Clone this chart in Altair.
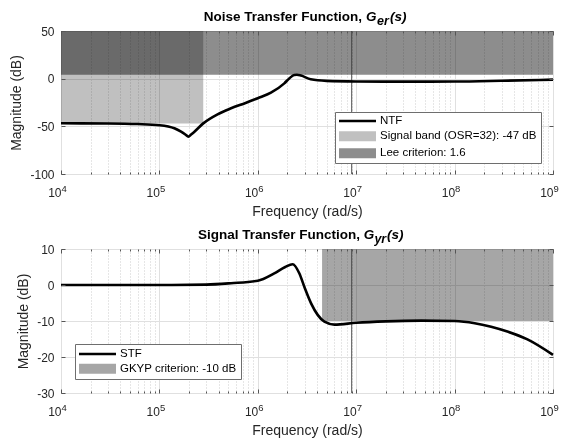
import altair as alt
import pandas as pd

# ---------------- data ----------------
ntf_freq = [1e4, 3e4, 6e4, 1e5, 1.42e5, 1.66e5, 1.85e5, 1.97e5, 2.1e5, 2.27e5, 2.79e5,
            3.9e5, 5.35e5, 7.5e5, 1e6, 1.36e6, 1.86e6, 2.1e6, 2.35e6, 2.5e6, 2.75e6,
            3.45e6, 5e6, 1e7, 3e7, 1e8, 3e8, 1e9]
ntf_db = [-46.8, -47.0, -47.6, -48.8, -52.0, -55.6, -58.8, -60.8, -58.5, -55.6, -46.9,
          -37.4, -31.1, -25.5, -20.5, -14.7, -4.9, 0.5, 3.9, 4.1, 3.2,
          -0.7, -2.3, -2.9, -3.1, -3.0, -2.2, -1.0]

stf_freq = [1e4, 1e5, 3e5, 5.35e5, 1e6, 1.47e6, 1.9e6, 2.26e6, 2.64e6, 2.97e6, 3.48e6,
            4.06e6, 4.75e6, 6e6, 1e7, 2e7, 4.6e7, 1e8, 1.6e8, 2.35e8, 3.5e8, 5.5e8, 1e9]
stf_db = [0.0, 0.0, 0.1, 0.5, 1.2, 3.25, 5.0, 5.75, 3.25, -0.5, -5.1,
          -8.3, -10.2, -11.0, -10.5, -10.1, -9.9, -10.0, -10.6, -11.6, -13.0, -15.1, -19.4]

top_line_label = ["NTF"]
top_band_labels = ["Signal band (OSR=32): -47 dB", "Lee criterion: 1.6"]
top_band_colors = ["#c0c0c0", "#8d8d8d"]
bot_line_label = ["STF"]
bot_band_labels = ["GKYP criterion: -10 dB"]
bot_band_colors = ["#a6a6a6"]
line_color = ["#000000"]

signal_band_freq = [1e4, 2.79e5]
signal_band_db = [-47, 50]
lee_freq = [1e4, 1e9]
lee_db = [4.08, 50]
gkyp_freq = [4.5e6, 1e9]
gkyp_db = [-10, 10]
marker_freq = [9.0e6]

x_domain = [1e4, 1e9]
top_y_domain = [-100, 50]
bot_y_domain = [-30, 10]
top_y_ticks = [-100, -50, 0, 50]
bot_y_ticks = [-30, -20, -10, 0, 10]
decades = [1e4, 1e5, 1e6, 1e7, 1e8, 1e9]
minor_steps = [1, 2, 3, 4, 5, 6, 7, 8, 9]
x_ticks = [d * m for d in decades[:-1] for m in minor_steps] + [decades[-1]]

top_title = ["Noise Transfer Function,", "G", "er", "(s)"]
bot_title = ["Signal Transfer Function,", "G", "yr", "(s)"]

# ---------------- styling ----------------
W = 492
H_TOP = 143
H_BOT = 144
FONT = "Liberation Sans"
AX_COLOR = "#262626"
MAJOR = "abs(log(datum.value)/LN10 - round(log(datum.value)/LN10)) < 0.001"
RECT_PATH = "M-3.7,-1L3.7,-1L3.7,1L-3.7,1Z"
LINE_PATH = "M-3.7,0L3.7,0"
LABEL_PAD = 13.5


def main_x_axis():
    return alt.Axis(values=x_ticks, labelExpr=f"({MAJOR}) ? '10' : ''",
                    title="Frequency (rad/s)",
                    grid=True,
                    gridColor={"condition": {"test": MAJOR, "value": "#e0e0e0"}, "value": "#cdcdcd"},
                    gridDash={"condition": {"test": MAJOR, "value": []}, "value": [1, 2]},
                    gridWidth=1, ticks=False, tickSize=0, domain=False,
                    labelPadding=LABEL_PAD, labelAlign="right",
                    labelFont=FONT, labelFontSize=12, labelColor=AX_COLOR,
                    labelFlush=False, labelOverlap=False, labelBound=False,
                    titleFont=FONT, titleFontSize=14, titleFontWeight="normal",
                    titleColor=AX_COLOR, titlePadding=6)


def exponent_x_axis():
    return alt.Axis(orient="bottom", values=decades,
                    labelExpr="'' + round(log(datum.value)/LN10)",
                    title=None, grid=False, ticks=False, tickSize=0, domain=False,
                    labelPadding=LABEL_PAD - 3.7, labelAlign="left",
                    labelFont=FONT, labelFontSize=9.5, labelColor=AX_COLOR,
                    labelFlush=False, labelOverlap=False, labelBound=False)


def main_y_axis(ticks):
    return alt.Axis(values=ticks, labelExpr="'' + datum.value", title="Magnitude (dB)",
                    grid=True, gridColor="#e0e0e0", gridWidth=1,
                    ticks=False, tickSize=0, domain=False,
                    labelPadding=7, labelFont=FONT, labelFontSize=12, labelColor=AX_COLOR,
                    labelFlush=False, labelOverlap=False,
                    titleFont=FONT, titleFontSize=14, titleFontWeight="normal",
                    titleColor=AX_COLOR, titlePadding=6)


def tick_x_axis(orient, offset):
    return alt.Axis(orient=orient, offset=offset, values=x_ticks, labels=False, title=None,
                    grid=False, domain=False, ticks=True,
                    tickSize={"condition": {"test": MAJOR, "value": 4}, "value": 2},
                    tickColor="#555555", tickWidth=1, zindex=1)


def tick_y_axis(orient, offset, ticks):
    return alt.Axis(orient=orient, offset=offset, values=ticks, labels=False, title=None,
                    grid=False, domain=False, ticks=True, tickSize=4,
                    tickColor="#555555", tickWidth=1, zindex=1)


def line_legend(lx, ly):
    return alt.Legend(title=None, orient="none", legendX=lx, legendY=ly,
                      symbolType=LINE_PATH, symbolSize=100, symbolStrokeWidth=2.6,
                      symbolOffset=12, labelOffset=16, padding=0,
                      labelFont=FONT, labelFontSize=11.5, labelColor="black",
                      labelLimit=400, zindex=2)


def band_legend(lx, ly, tpad):
    return alt.Legend(title=" ", titleFontSize=11.5, titlePadding=tpad,
                      orient="none", legendX=lx, legendY=ly,
                      symbolType=RECT_PATH, symbolSize=100, symbolStrokeWidth=0,
                      symbolOffset=12.75, labelOffset=16.75, rowPadding=4, padding=4,
                      labelFont=FONT, labelFontSize=11.5, labelColor="black",
                      labelLimit=400, fillColor="white", strokeColor="#6e6e6e", zindex=1)


def title_layers(parts, xs, y0):
    df = pd.DataFrame({"k": [0]})
    base = alt.Chart(df)
    main = base.mark_text(text=parts[0], align="right", baseline="alphabetic", font=FONT,
                          fontSize=13.5, fontWeight="bold", color="black").encode(
        x=alt.value(xs[0]), y=alt.value(y0))
    g = base.mark_text(text=parts[1], align="left", baseline="alphabetic", font=FONT,
                       fontSize=13.5, fontWeight="bold", fontStyle="italic", color="black").encode(
        x=alt.value(xs[1]), y=alt.value(y0))
    sub = base.mark_text(text=parts[2], align="left", baseline="alphabetic", font=FONT,
                         fontSize=12.5, fontWeight="bold", fontStyle="italic", color="black").encode(
        x=alt.value(xs[2]), y=alt.value(y0 + 4.3))
    par = base.mark_text(text=parts[3], align="left", baseline="alphabetic", font=FONT,
                         fontSize=13.5, fontWeight="bold", fontStyle="italic", color="black").encode(
        x=alt.value(xs[3]), y=alt.value(y0))
    return [main, g, sub, par]


def build_panel(H, y_domain, y_ticks, curve_freq, curve_db, bands, line_label, band_labels,
                band_colors, line_leg_pos, band_leg_pos, tpad, title_parts, title_xs):
    xs = alt.Scale(type="log", domain=x_domain, nice=False)
    ys = alt.Scale(domain=y_domain, nice=False, zero=False)
    fs = alt.Scale(domain=band_labels, range=band_colors)
    ss = alt.Scale(domain=line_label, range=line_color)
    bleg = band_legend(*band_leg_pos, tpad)
    lleg = line_legend(*line_leg_pos)
    layers = []
    for i, (bf, bd, lab) in enumerate(bands):
        df = pd.DataFrame({"f0": [bf[0]], "f1": [bf[1]], "lo": [bd[0]], "hi": [bd[1]],
                           "series": [lab]})
        layers.append(
            alt.Chart(df).mark_rect(blend="multiply").encode(
                x=alt.X("f0:Q", scale=xs, axis=main_x_axis() if i == 0 else None),
                x2="f1:Q",
                y=alt.Y("lo:Q", scale=ys, axis=main_y_axis(y_ticks) if i == 0 else None),
                y2="hi:Q",
                fill=alt.Fill("series:N", scale=fs, legend=bleg),
            )
        )
    vdf = pd.DataFrame({"f": marker_freq})
    layers.append(
        alt.Chart(vdf).mark_rule(color="#3c3c3c", strokeWidth=0.9).encode(
            x=alt.X("f:Q", scale=xs, axis=tick_x_axis("top", -H)))
    )
    cdf = pd.DataFrame({"freq": curve_freq, "db": curve_db, "series": line_label[0]})
    layers.append(
        alt.Chart(cdf).mark_line(strokeWidth=2.6, interpolate="monotone").encode(
            x=alt.X("freq:Q", scale=xs, axis=tick_x_axis("bottom", -H)),
            y=alt.Y("db:Q", scale=ys, axis=tick_y_axis("right", -W, y_ticks)),
            stroke=alt.Stroke("series:N", scale=ss, legend=lleg),
        )
    )
    layers.append(
        alt.Chart(cdf).mark_point(opacity=0).encode(
            x=alt.X("freq:Q", scale=xs, axis=exponent_x_axis()),
            y=alt.Y("db:Q", scale=ys, axis=tick_y_axis("left", -W, y_ticks)),
        )
    )
    layers += title_layers(title_parts, title_xs, -10.3)
    return alt.layer(*layers).resolve_axis(x="independent", y="independent").properties(
        width=W, height=H)


top = build_panel(H_TOP, top_y_domain, top_y_ticks, ntf_freq, ntf_db,
                  [(signal_band_freq, signal_band_db, top_band_labels[0]),
                   (lee_freq, lee_db, top_band_labels[1])],
                  top_line_label, top_band_labels, top_band_colors,
                  (278, 83.5), (274, 81), 3, top_title, [301, 305, 316, 329])
bottom = build_panel(H_BOT, bot_y_domain, bot_y_ticks, stf_freq, stf_db,
                     [(gkyp_freq, gkyp_db, bot_band_labels[0])],
                     bot_line_label, bot_band_labels, bot_band_colors,
                     (18, 98.5), (14, 95), 3.5, bot_title, [299, 302.7, 313.4, 326])

chart = alt.vconcat(top, bottom, spacing=75, bounds="flush").resolve_scale(
    fill="independent", stroke="independent").properties(
    padding={"left": 9, "top": 9, "right": 2, "bottom": 4},
    background="white",
).configure_view(stroke="#7f7f7f", strokeWidth=1)

chart.save("out.html", embed_options={"renderer": "svg", "actions": False})
